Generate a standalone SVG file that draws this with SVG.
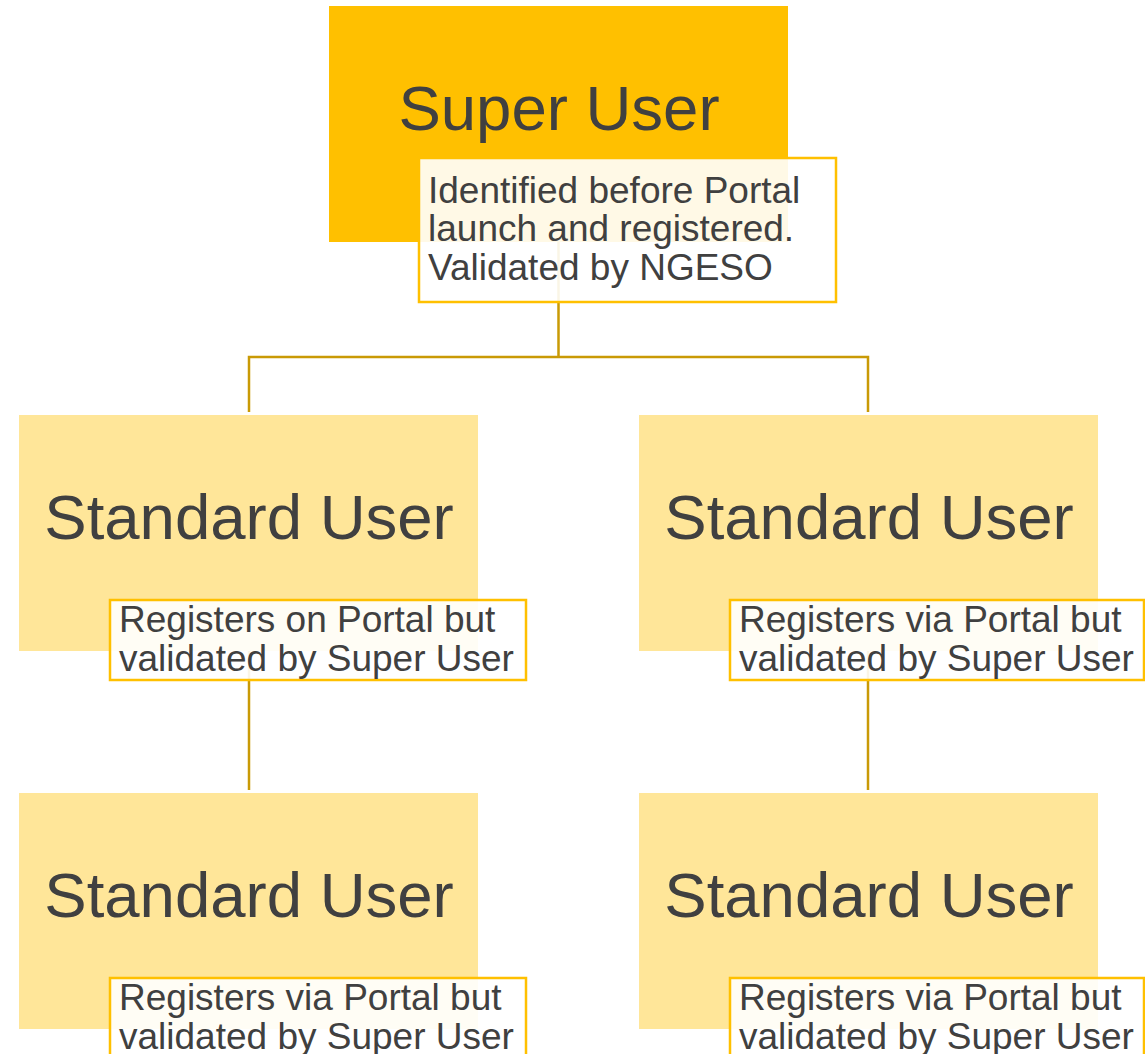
<svg xmlns="http://www.w3.org/2000/svg" width="1145" height="1054" viewBox="0 0 1145 1054">
  <style>
    .box-super { fill: #FFC000; }
    .box-std { fill: #FFE699; }
    .title { font-family: "Liberation Sans", Arial, sans-serif; font-size: 63.5px; fill: #404040; text-anchor: middle; }
    .note { fill: #FFFFFF; fill-opacity: 0.9; stroke: #FFC000; stroke-width: 2.5; }
    .note-text { font-family: "Liberation Sans", Arial, sans-serif; font-size: 37px; fill: #404040; }
    .link { fill: none; stroke: #C99A06; stroke-width: 2.5; }
  </style>
  <rect width="1145" height="1054" fill="#FFFFFF"/>

  <!-- connectors sit under the nodes' callouts -->
  <g id="connectors">
    <path class="link" d="M558.5 242 V357 M249 412 V357 H868 V412"/>
    <path class="link" d="M249 651 V790"/>
    <path class="link" d="M868 651 V790"/>
  </g>

  <g id="super-user">
    <rect class="box-super" x="329" y="6" width="459" height="236"/>
    <text class="title" x="559" y="130">Super User</text>
    <rect class="note" x="419" y="158" width="417" height="144"/>
    <text class="note-text" x="428" y="203">Identified before Portal</text>
    <text class="note-text" x="428" y="241">launch and registered.</text>
    <text class="note-text" x="428" y="280">Validated by NGESO</text>
  </g>

  <g id="standard-user-1">
    <rect class="box-std" x="19" y="415" width="459" height="236"/>
    <text class="title" x="249" y="539">Standard User</text>
    <rect class="note" x="110" y="600" width="416" height="80"/>
    <text class="note-text" x="119" y="632">Registers on Portal but</text>
    <text class="note-text" x="119" y="671">validated by Super User</text>
  </g>

  <g id="standard-user-2">
    <rect class="box-std" x="639" y="415" width="459" height="236"/>
    <text class="title" x="869" y="539">Standard User</text>
    <rect class="note" x="730" y="600" width="414" height="80"/>
    <text class="note-text" x="739" y="632">Registers via Portal but</text>
    <text class="note-text" x="739" y="671">validated by Super User</text>
  </g>

  <g id="standard-user-3">
    <rect class="box-std" x="19" y="793" width="459" height="236"/>
    <text class="title" x="249" y="917">Standard User</text>
    <rect class="note" x="110" y="978" width="416" height="80"/>
    <text class="note-text" x="119" y="1010">Registers via Portal but</text>
    <text class="note-text" x="119" y="1049">validated by Super User</text>
  </g>

  <g id="standard-user-4">
    <rect class="box-std" x="639" y="793" width="459" height="236"/>
    <text class="title" x="869" y="917">Standard User</text>
    <rect class="note" x="730" y="978" width="414" height="80"/>
    <text class="note-text" x="739" y="1010">Registers via Portal but</text>
    <text class="note-text" x="739" y="1049">validated by Super User</text>
  </g>
</svg>
